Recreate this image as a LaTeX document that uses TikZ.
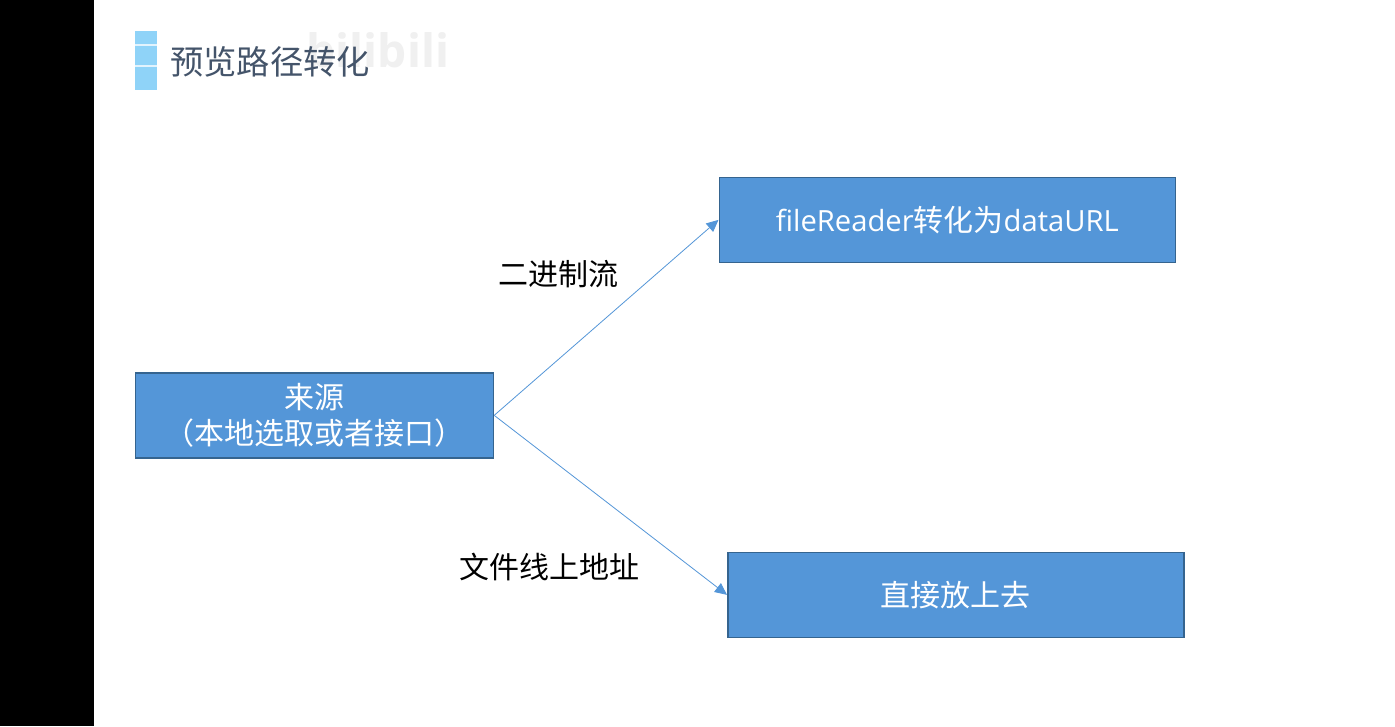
\documentclass[tikz,border=0pt]{standalone}
\usepackage{fontspec}
\setmainfont{Noto Sans CJK SC}
\newfontfamily\latinfont{Open Sans}
\usetikzlibrary{arrows.meta}
\definecolor{boxfill}{HTML}{5496D8}
\definecolor{boxline}{HTML}{35648F}
\definecolor{barblue}{HTML}{8FD3F8}
\definecolor{titlecol}{HTML}{44546A}
\tikzset{
  flowbox/.style={draw=boxline,line width=1.7pt,fill=boxfill,text=white,inner sep=0pt,anchor=north west,align=center,font=\fontsize{30}{36}\selectfont},
  edgelabel/.style={text=black,inner sep=0pt,font=\fontsize{30}{36}\selectfont},
  flowarrow/.style={draw=boxfill,line width=.8pt,-{Triangle[length=12pt,width=11pt]},shorten <=0pt,shorten >=0pt}
}
\begin{document}
\begin{tikzpicture}[x=1pt,y=-1pt]
\useasboundingbox (0,0) rectangle (1395,726);
\fill[white] (0,0) rectangle (1395,726);
\fill[black] (0,0) rectangle (94,726);
% watermark and title bar
\node[text=black!6,inner sep=0pt,font=\latinfont\bfseries\fontsize{46}{50}\selectfont] (wm) at (378,50) {bilibili};
\fill[barblue] (135,31) rectangle (157,90);
\fill[white,opacity=.75] (125,43.5) rectangle (157,46);
\fill[white,opacity=.75] (125,64.5) rectangle (157,67);
\node[text=titlecol,inner sep=0pt,anchor=west,font=\fontsize{33.3}{38}\selectfont] (title) at (170,62) {预览路径转化};
% boxes
\node[flowbox,minimum width=358pt,minimum height=85pt] (src) at (134.5,372) {来源\\（本地选取或者接口）};
\node[flowbox,minimum width=456pt,minimum height=85pt] (top) at (718.5,176.5) {\fontsize{29.2}{36}\selectfont\latinfont fileReader\fontspec{Noto Sans CJK SC}\fontsize{30}{36}\selectfont 转化为\fontsize{29.2}{36}\selectfont\latinfont dataURL};
\node[flowbox,minimum width=456pt,minimum height=85pt] (bot) at (727,551.5) {直接放上去};
% connectors
\draw[flowarrow] (src.east) -- (top.west);
\draw[flowarrow] (src.east) -- (bot.west);
% labels
\node[edgelabel] (l1) at (558,274) {二进制流};
\node[edgelabel] (l2) at (549.5,567) {文件线上地址};
\end{tikzpicture}
\end{document}
